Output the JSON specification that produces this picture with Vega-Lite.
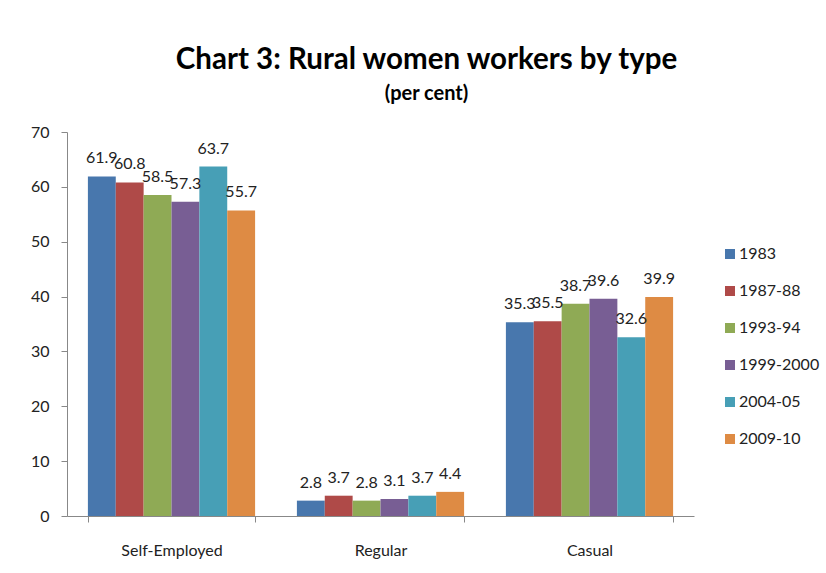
{
  "$schema": "https://vega.github.io/schema/vega-lite/v6.json",
  "width": 627,
  "height": 384,
  "autosize": {"type": "none"},
  "padding": {"left": 67, "top": 132, "right": 132, "bottom": 57},
  "background": "white",
  "title": {
    "text": "Chart 3: Rural women workers by type",
    "subtitle": "(per cent)",
    "anchor": "middle",
    "dx": 46,
    "offset": 19,
    "font": "Lato",
    "fontSize": 29.5,
    "fontWeight": "bold",
    "color": "#000000",
    "subtitleFont": "Lato",
    "subtitleFontSize": 20,
    "subtitleFontWeight": "bold",
    "subtitleColor": "#000000",
    "subtitlePadding": 9
  },
  "data": {
    "values": [
      {"type": "Self-Employed", "year": "1983", "value": 61.9},
      {"type": "Self-Employed", "year": "1987-88", "value": 60.8},
      {"type": "Self-Employed", "year": "1993-94", "value": 58.5},
      {"type": "Self-Employed", "year": "1999-2000", "value": 57.3},
      {"type": "Self-Employed", "year": "2004-05", "value": 63.7},
      {"type": "Self-Employed", "year": "2009-10", "value": 55.7},
      {"type": "Regular", "year": "1983", "value": 2.8},
      {"type": "Regular", "year": "1987-88", "value": 3.7},
      {"type": "Regular", "year": "1993-94", "value": 2.8},
      {"type": "Regular", "year": "1999-2000", "value": 3.1},
      {"type": "Regular", "year": "2004-05", "value": 3.7},
      {"type": "Regular", "year": "2009-10", "value": 4.4},
      {"type": "Casual", "year": "1983", "value": 35.3},
      {"type": "Casual", "year": "1987-88", "value": 35.5},
      {"type": "Casual", "year": "1993-94", "value": 38.7},
      {"type": "Casual", "year": "1999-2000", "value": 39.6},
      {"type": "Casual", "year": "2004-05", "value": 32.6},
      {"type": "Casual", "year": "2009-10", "value": 39.9}
    ]
  },
  "encoding": {
    "x": {
      "field": "type",
      "type": "nominal",
      "sort": ["Self-Employed", "Regular", "Casual"],
      "scale": {"paddingInner": 0.2, "paddingOuter": 0.1},
      "axis": {
        "title": null,
        "labelAngle": 0,
        "tickBand": "extent",
        "tickSize": 6,
        "tickColor": "#888888",
        "domainColor": "#888888",
        "labelPadding": 20,
        "labelFont": "Lato",
        "labelFontSize": 16,
        "labelColor": "#222222"
      }
    },
    "xOffset": {
      "field": "year",
      "type": "nominal",
      "sort": ["1983", "1987-88", "1993-94", "1999-2000", "2004-05", "2009-10"]
    },
    "y": {
      "field": "value",
      "type": "quantitative",
      "scale": {"domain": [0, 70], "nice": false},
      "axis": {
        "title": null,
        "values": [0, 10, 20, 30, 40, 50, 60, 70],
        "grid": false,
        "tickSize": 6,
        "tickColor": "#888888",
        "domainColor": "#888888",
        "labelPadding": 12,
        "labelFont": "Lato",
        "labelFontSize": 16,
        "labelColor": "#222222"
      }
    }
  },
  "layer": [
    {
      "mark": {"type": "bar"},
      "encoding": {
        "color": {
          "field": "year",
          "type": "nominal",
          "sort": ["1983", "1987-88", "1993-94", "1999-2000", "2004-05", "2009-10"],
          "scale": {
            "domain": ["1983", "1987-88", "1993-94", "1999-2000", "2004-05", "2009-10"],
            "range": ["#4877AD", "#AF4A48", "#8FAA55", "#785E94", "#479FB6", "#DE8B44"]
          },
          "legend": {
            "title": null,
            "orient": "none",
            "legendX": 655,
            "legendY": 114,
            "padding": 0,
            "symbolType": "square",
            "symbolSize": 100,
            "symbolStrokeWidth": 0,
            "symbolOpacity": 1,
            "labelFont": "Lato",
            "labelFontSize": 16,
            "labelColor": "#222222",
            "labelOffset": 1,
            "rowPadding": 21
          }
        }
      }
    },
    {
      "mark": {"type": "text", "dy": -13, "baseline": "alphabetic", "font": "Lato", "fontSize": 16, "color": "#222222"},
      "encoding": {
        "text": {"field": "value", "type": "quantitative", "format": ".1f"}
      }
    }
  ],
  "config": {"view": {"stroke": null}}
}
